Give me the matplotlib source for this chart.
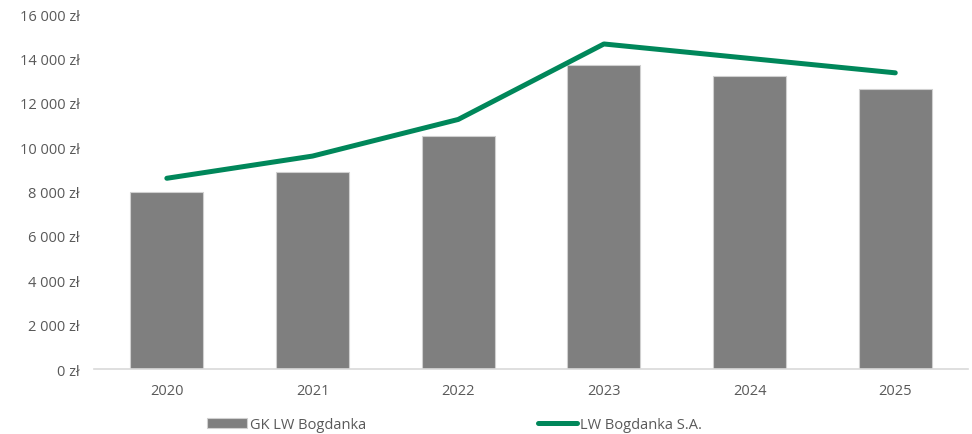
import matplotlib.pyplot as plt
import numpy as np
from matplotlib.ticker import FuncFormatter

years = ['2020', '2021', '2022', '2023', '2024', '2025']
gk_bogdanka = [8000, 8900, 10500, 13700, 13200, 12600]
lw_bogdanka_sa = [8600, 9600, 11250, 14650, 14000, 13350]

plt.rcParams['font.family'] = ['Open Sans', 'DejaVu Sans']

fig = plt.figure(figsize=(9.72, 4.35), dpi=100)
ax = fig.add_axes([0.0967, 0.149, 0.8993, 0.8165])

x = np.arange(len(years))
bars = ax.bar(x, gk_bogdanka, width=0.5, color='#7f7f7f', edgecolor='#d0d0d0',
              linewidth=0.8, label='GK LW Bogdanka', zorder=2)
line, = ax.plot(x, lw_bogdanka_sa, color='#00875a', linewidth=3.6,
                solid_capstyle='round', label='LW Bogdanka S.A.', zorder=3)

ax.set_xlim(-0.5, len(years) - 0.5)
ax.set_ylim(0, 16000)
ax.set_yticks(range(0, 16001, 2000))
ax.yaxis.set_major_formatter(
    FuncFormatter(lambda v, _: f'{int(v):,}'.replace(',', ' ') + ' zł'))
ax.set_xticks(x)
ax.set_xticklabels(years)

for s in ['top', 'right', 'left']:
    ax.spines[s].set_visible(False)
ax.spines['bottom'].set_color('#d9d9d9')
ax.spines['bottom'].set_linewidth(1.2)
ax.tick_params(axis='both', length=0, colors='#595959', labelsize=10.5)
ax.tick_params(axis='y', pad=10)
ax.tick_params(axis='x', pad=10)

fig.legend([bars, line], ['GK LW Bogdanka', 'LW Bogdanka S.A.'],
           loc='center', bbox_to_anchor=(0.468, 0.022), ncol=2,
           frameon=False, fontsize=10.5, handlelength=2.7,
           columnspacing=11.8, handletextpad=0.2, labelcolor='#595959')

fig.savefig('out.png', dpi=100)
